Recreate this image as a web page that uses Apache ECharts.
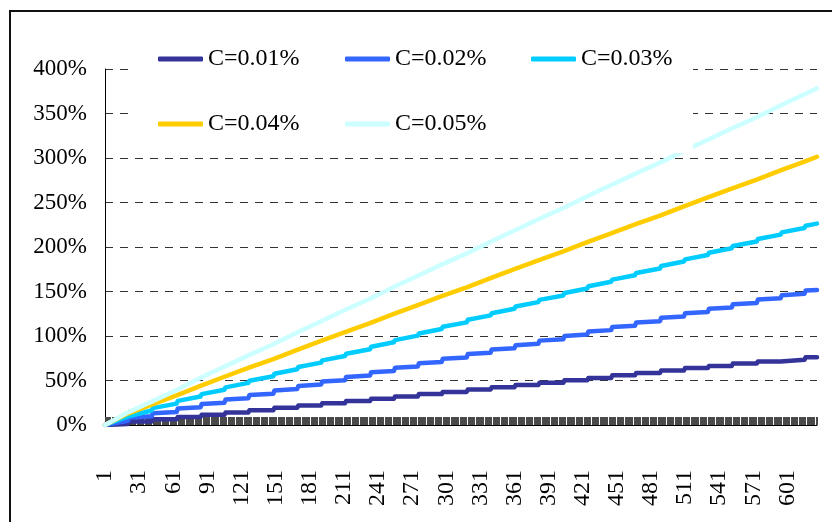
<!DOCTYPE html>
<html>
<head>
<meta charset="utf-8">
<script src="https://cdn.jsdelivr.net/npm/echarts@6/dist/echarts.min.js"></script>
<style>
  html, body { margin: 0; padding: 0; background: #fff; }
  #chart { width: 832px; height: 522px; }
</style>
</head>
<body>
<div id="chart"></div>
<script>
// Day numbers along the x axis (1 .. 627)
const dayCount = 627;
const days = Array.from({ length: dayCount }, (_, i) => String(i + 1));

// Day index where each monthly step begins, and the final day index
const monthStarts = [0, 21, 42, 64, 85, 106, 127, 149, 170, 191, 212, 234, 255, 276, 297,
  319, 340, 361, 382, 404, 425, 446, 467, 489, 510, 531, 552, 574, 595, 616];
const lastDay = 626;

const seriesNames = ['C=0.01%', 'C=0.02%', 'C=0.03%', 'C=0.04%', 'C=0.05%'];
const seriesColors = ['#333399', '#3366FF', '#00CCFF', '#FFCC00', '#CCFFFF'];

// Cumulative value (%) on the first and on the last day of each month
const c01Start = [0, 3.8, 6.4, 9.0, 11.6, 14.1, 16.7, 19.3, 21.8, 24.4, 26.9, 29.6, 32.1, 34.7, 37.2,
  39.9, 42.4, 45.0, 47.5, 50.2, 52.8, 55.8, 58.5, 61.3, 64.0, 66.3, 69.0, 71.3, 73.4, 76.0];
const c01End = [1.0, 3.8, 6.4, 9.0, 11.6, 14.1, 16.7, 19.3, 21.8, 24.4, 26.9, 29.6, 32.1, 34.7, 37.2,
  39.9, 42.4, 45.0, 47.5, 50.2, 52.8, 55.8, 58.5, 61.3, 64.0, 66.3, 69.0, 71.3, 73.4, 76.0];

const c02Start = [0, 8.2, 13.2, 18.5, 23.5, 28.6, 33.6, 38.9, 43.9, 48.9, 54.0, 59.3, 64.3, 69.3, 74.4,
  79.7, 84.7, 89.7, 94.8, 100.1, 105.1, 110.1, 115.2, 120.5, 125.5, 130.5, 135.6, 140.9, 145.9, 151.0];
const c02End = [4.6, 9.7, 14.7, 20.0, 25.0, 30.1, 35.1, 40.4, 45.4, 50.4, 55.5, 60.8, 65.8, 70.8, 75.9,
  81.2, 86.2, 91.2, 96.3, 101.6, 106.6, 111.6, 116.7, 122.0, 127.0, 132.0, 137.1, 142.4, 147.4, 151.6];

const c03Start = [0, 11.3, 19.0, 27.1, 34.7, 42.3, 49.8, 57.6, 65.1, 72.6, 80.1, 87.9, 95.4, 102.8, 110.3,
  118.2, 125.6, 133.1, 140.6, 148.4, 155.9, 163.3, 170.8, 178.7, 186.1, 193.6, 201.1, 208.9, 216.4, 223.9];
const c03End = [9.5, 16.3, 24.0, 32.1, 39.7, 47.3, 54.8, 62.6, 70.1, 77.6, 85.1, 92.9, 100.4, 107.8, 115.3,
  123.2, 130.6, 138.1, 145.6, 153.4, 160.9, 168.3, 175.8, 183.7, 191.1, 198.6, 206.1, 213.9, 221.4, 226.3];

const c04Start = [0, 14.1, 24.4, 35.1, 45.4, 55.3, 65.3, 75.7, 85.7, 95.6, 105.6, 116.0, 126.0, 135.9, 145.9,
  156.3, 166.3, 176.2, 186.2, 196.7, 206.6, 216.6, 226.5, 236.9, 246.9, 256.9, 266.8, 277.2, 287.2, 297.2];
const c04End = [12.8, 22.9, 33.2, 43.9, 54.2, 64.1, 74.1, 84.5, 94.5, 104.4, 114.4, 124.8, 134.8, 144.7, 154.7,
  165.1, 175.1, 185.0, 195.0, 205.5, 215.4, 225.4, 235.3, 245.7, 255.7, 265.7, 275.6, 286.0, 296.0, 301.4];

const c05Start = [0, 14.8, 27.8, 41.5, 54.1, 66.7, 79.3, 92.5, 105.1, 117.7, 130.3, 143.5, 156.1, 168.7, 181.3,
  194.5, 207.1, 219.7, 232.3, 245.5, 258.1, 270.7, 283.3, 296.5, 309.1, 321.7, 334.3, 347.5, 360.1, 372.8];
const c05End = [14.0, 26.3, 39.3, 53.0, 65.6, 78.2, 90.8, 104.0, 116.6, 129.2, 141.8, 155.0, 167.6, 180.2, 192.8,
  206.0, 218.6, 231.2, 243.8, 257.0, 269.6, 282.2, 294.8, 308.0, 320.6, 333.2, 345.8, 359.0, 371.6, 378.3];

const startValues = [c01Start, c02Start, c03Start, c04Start, c05Start];
const endValues = [c01End, c02End, c03End, c04End, c05End];

const yTicks = { min: 0, max: 400, interval: 50 };

const FONT = 'Liberation Serif';
const legendSlots = [[158, 47], [345, 47], [531, 47], [158, 112], [345, 112]];

// Each month contributes two points: its first day and its last day
function monthPoints(starts, ends) {
  const pts = [];
  monthStarts.forEach((d, m) => {
    const lastOfMonth = m + 1 < monthStarts.length ? monthStarts[m + 1] - 1 : lastDay;
    pts.push([d, starts[m]]);
    pts.push([lastOfMonth, ends[m]]);
  });
  return pts;
}

const chart = echarts.init(document.getElementById('chart'), null, { renderer: 'canvas' });

chart.setOption({
  animation: false,
  backgroundColor: '#fff',
  grid: { left: 105, right: 15, top: 69, bottom: 97, containLabel: false },
  xAxis: {
    type: 'category',
    data: days,
    boundaryGap: false,
    axisLine: { show: true, lineStyle: { color: '#000', width: 1 } },
    axisTick: { show: true, interval: 0, inside: true, length: 8, lineStyle: { color: '#4a4a4a', width: 1 } },
    axisLabel: {
      interval: 29, rotate: 90, margin: 45,
      fontFamily: FONT, fontSize: 24, color: '#000'
    },
    splitLine: { show: false }
  },
  yAxis: {
    type: 'value',
    min: yTicks.min, max: yTicks.max, interval: yTicks.interval,
    axisLine: { show: true, lineStyle: { color: '#000', width: 1 } },
    axisTick: { show: false },
    axisLabel: { formatter: '{value}%', margin: 18, fontFamily: FONT, fontSize: 23, color: '#000' },
    splitLine: { show: true, lineStyle: { color: '#333', width: 1, type: [8, 7] } }
  },
  legend: seriesNames.map((name, i) => ({
    data: [name],
    left: legendSlots[i][0],
    top: legendSlots[i][1],
    orient: 'horizontal',
    icon: 'roundRect',
    itemWidth: 45,
    itemHeight: 5,
    itemGap: 0,
    padding: 0,
    selectedMode: false,
    z: 10,
    textStyle: { fontFamily: FONT, fontSize: 24, color: '#000', lineHeight: 24 }
  })),
  graphic: [
    { type: 'rect', silent: true, z: 5, shape: { x: 135, y: 30, width: 558, height: 123 }, style: { fill: '#fff' } },
    { type: 'rect', silent: true, z: 100, shape: { x: 10, y: 11, width: 840, height: 540 }, style: { fill: 'none', stroke: '#111', lineWidth: 2 } }
  ],
  series: seriesNames.map((name, i) => ({
    name: name,
    type: 'line',
    data: monthPoints(startValues[i], endValues[i]),
    showSymbol: false,
    symbol: 'none',
    color: seriesColors[i],
    lineStyle: { width: 4.5, color: seriesColors[i], cap: 'round', join: 'round' },
    z: 2
  }))
});
</script>
</body>
</html>
